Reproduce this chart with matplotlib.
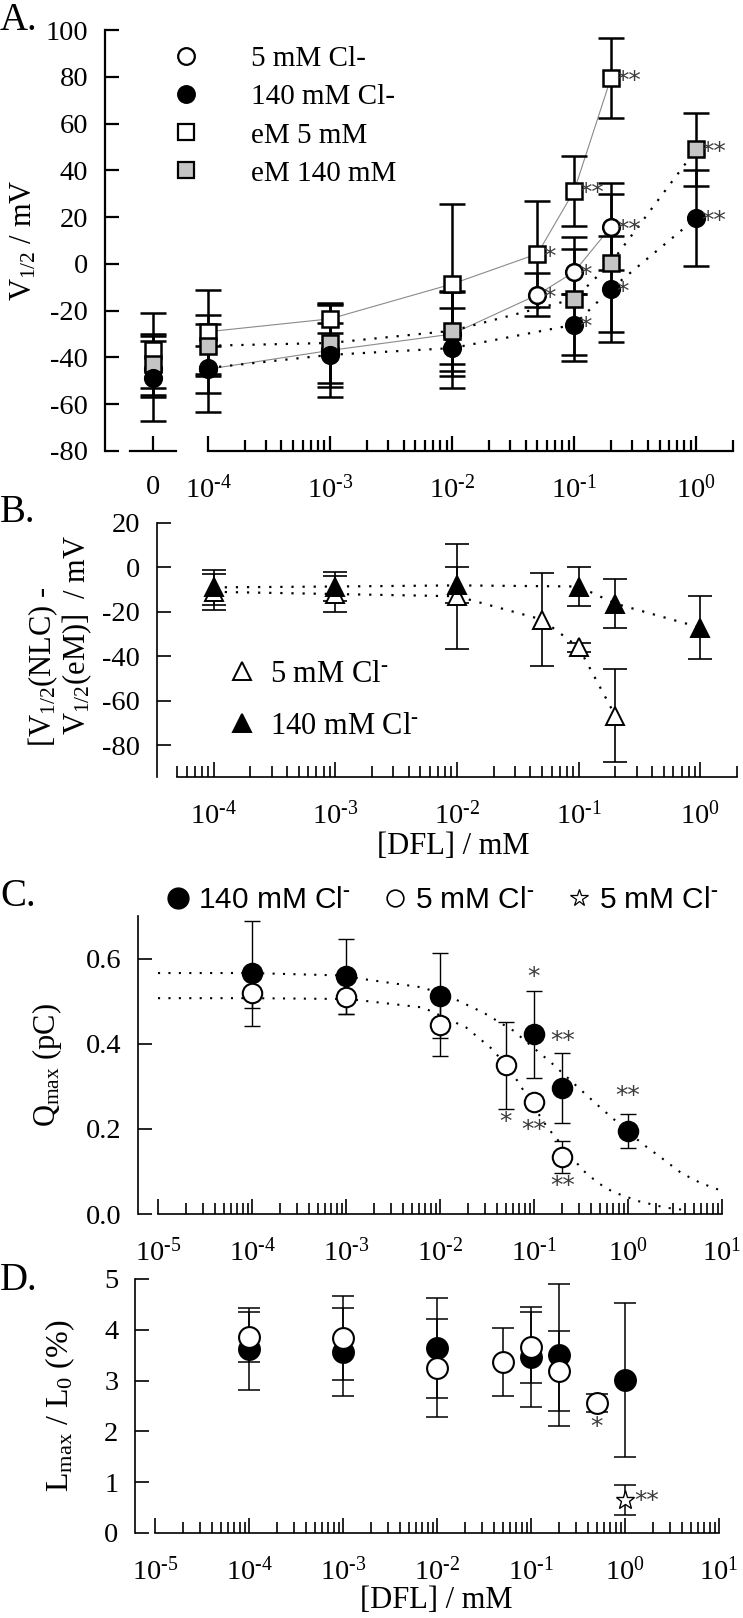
import numpy as np
import matplotlib
matplotlib.use('Agg')
import matplotlib.pyplot as plt
from matplotlib.ticker import FixedLocator, FixedFormatter, NullFormatter, LogLocator
from matplotlib.lines import Line2D

plt.rcParams.update({
    'font.family': ['Liberation Serif', 'DejaVu Serif'],
    'mathtext.fontset': 'custom',
    'mathtext.rm': 'Liberation Serif',
    'mathtext.it': 'Liberation Serif:italic',
    'mathtext.bf': 'Liberation Serif:bold',
    'mathtext.default': 'regular',
    'axes.unicode_minus': False,
})

# ---------------- data ----------------
# Panel A : V1/2 (mV) vs [DFL] (mM); "0" = control
concA_cl5 = [1e-4, 1e-3, 1e-2, 0.05, 0.1, 0.2]
vA_cl5 = [-45, -37, -30, -13.2, -3.4, 15.8]
eA_cl5 = [10, 20, 18, 9.1, 9.6, 18.6]
concA_cl140 = [1e-4, 1e-3, 1e-2, 0.1, 0.2, 1.0]
vA_cl140 = [-44.5, -38.9, -36, -26, -10.7, 19.6]
eA_cl140 = [18.8, 13.7, 17, 13, 22.5, 20.5]
concA_em5 = [1e-4, 1e-3, 1e-2, 0.05, 0.1, 0.2]
vA_em5 = [-29, -23.5, -8.6, 4.3, 31.3, 79.5]
eA_em5 = [18, 6, 34.2, 22.6, 15, 17]
concA_em140 = [1e-4, 1e-3, 1e-2, 0.1, 0.2, 1.0]
vA_em140 = [-35, -33.8, -28.6, -15, 0.4, 49]
eA_em140 = [13, 17, 17, 26.7, 29.5, 15.5]
# control (0 mM DFL) values: cl5, cl140, em5, em140
ctrl_v = [-45, -49, -37, -43]
ctrl_e = [12, 18, 16, 13]
labelsA = ['5 mM Cl-', '140 mM Cl-', 'eM 5 mM', 'eM 140 mM']
# significance marks (series, index, text)
sigA = [('em5', 5, '**'), ('em5', 4, '**'), ('em5', 3, '*'),
        ('cl5', 5, '**'), ('cl5', 4, '*'), ('cl5', 3, '*'),
        ('cl140', 4, '*'), ('cl140', 3, '*'), ('cl140', 5, '**'),
        ('em140', 5, '**')]

# Panel B : V1/2(NLC) - V1/2(eM)
concB_5 = [1e-4, 1e-3, 1e-2, 0.05, 0.1, 0.2]
dB_5 = [-11, -12, -13, -23.5, -36, -66.8]
eB_5 = [8, 8.3, 23.6, 21, 2, 21]
concB_140 = [1e-4, 1e-3, 1e-2, 0.1, 0.2, 1.0]
dB_140 = [-9, -8.6, -8.1, -8.6, -16.3, -27.1]
eB_140 = [8, 6.5, 8.1, 8.8, 11, 14.3]
labelsB = ['5 mM Cl$^{\\text{-}}$', '140 mM Cl$^{\\text{-}}$']

# Panel C : Qmax (pC)
concC_140 = [1e-4, 1e-3, 1e-2, 0.1, 0.2, 1.0]
qC_140 = [0.565, 0.558, 0.513, 0.422, 0.296, 0.195]
eC_140 = [0.124, 0.089, 0.10, 0.103, 0.083, 0.04]
concC_5 = [1e-4, 1e-3, 1e-2, 0.05, 0.1, 0.2]
qC_5 = [0.518, 0.509, 0.445, 0.349, 0.263, 0.134]
eC_5 = [0.035, 0.04, 0.075, 0.102, 0.0, 0.037]
# dotted fit curves
fitC140_x = [1e-5, 1e-4, 1e-3, 1.4e-3, 6.6e-3, 1.4e-2, 0.029, 0.06, 0.155, 0.32, 0.52, 1.4, 2.3, 3.7, 5.9, 9.5]
fitC140_y = [0.566, 0.566, 0.560, 0.553, 0.532, 0.506, 0.473, 0.431, 0.354, 0.29, 0.248, 0.166, 0.131, 0.096, 0.073, 0.056]
fitC5_x = [1e-5, 1e-4, 1e-3, 1.4e-3, 6.6e-3, 0.019, 0.037, 0.066, 0.09, 0.138, 0.33, 0.48, 0.69, 1.3, 2.5, 4.5]
fitC5_y = [0.507, 0.507, 0.505, 0.502, 0.485, 0.438, 0.385, 0.314, 0.267, 0.204, 0.103, 0.073, 0.052, 0.03, 0.015, 0.008]
sigC = [('c5', 3, '*', -41), ('c140', 3, '*', 41), ('c5', 4, '**', -20),
        ('c140', 4, '**', 34), ('c5', 5, '**', -21), ('c140', 5, '**', 25)]
labelsC = ['140 mM Cl$^{\\text{-}}$', '5 mM Cl$^{\\text{-}}$', '5 mM Cl$^{\\text{-}}$']

# Panel D : Lmax / L0 (%)
concD_140 = [1e-4, 1e-3, 1e-2, 0.1, 0.2, 1.0]
lD_140 = [3.62, 3.56, 3.64, 3.47, 3.50, 3.01]
eD_140 = [0.80, 0.87, 0.98, 0.98, 1.40, 1.52]
concD_5 = [1e-4, 1e-3, 1e-2, 0.05, 0.1, 0.2, 0.5]
lD_5 = [3.86, 3.84, 3.25, 3.37, 3.66, 3.19, 2.56]
eD_5 = [0.50, 0.82, 0.97, 0.67, 0.70, 0.79, 0.17]
concD_star = [1.0]
lD_star = [0.65]
eD_star = [0.29]

# axis ticks / labels
decA = [1e-4, 1e-3, 1e-2, 1e-1, 1e0]
decA_lab = ['$10^{\\text{-}4}$', '$10^{\\text{-}3}$', '$10^{\\text{-}2}$', '$10^{\\text{-}1}$', '$10^{0}$']
decC = [1e-5, 1e-4, 1e-3, 1e-2, 1e-1, 1e0, 1e1]
decC_lab = ['$10^{\\text{-}5}$', '$10^{\\text{-}4}$', '$10^{\\text{-}3}$', '$10^{\\text{-}2}$',
            '$10^{\\text{-}1}$', '$10^{0}$', '$10^{1}$']

# ---------------- layout helpers ----------------
W, H = 743, 1618
fig = plt.figure(figsize=(W / 100, H / 100), dpi=100)


def rect(x0, x1, ytop, ybot):
    return [x0 / W, 1 - ybot / H, (x1 - x0) / W, (ybot - ytop) / H]


def P(x, y):
    return (x / W, 1 - y / H)


FS = 20.5


def style(ax, lw, outward):
    for s in ['top', 'right']:
        ax.spines[s].set_visible(False)
    ax.spines['left'].set_linewidth(lw)
    ax.spines['bottom'].set_linewidth(lw)
    ax.spines['left'].set_position(('outward', outward))
    ax.tick_params(axis='both', which='both', direction='in', width=lw, labelsize=FS)
    ax.tick_params(axis='y', length=10, pad=12)
    ax.tick_params(axis='x', which='major', length=11, pad=17)
    ax.tick_params(axis='x', which='minor', length=8)
    ax.patch.set_alpha(0)


def logx(ax, lim, majors, labels):
    ax.set_xscale('log')
    ax.set_xlim(*lim)
    ax.xaxis.set_major_locator(FixedLocator(majors))
    ax.xaxis.set_major_formatter(FixedFormatter(labels))
    ax.xaxis.set_minor_locator(LogLocator(base=10, subs=np.arange(2, 10), numticks=50))
    ax.xaxis.set_minor_formatter(NullFormatter())


def star_text(ax, x, y, txt, dx, dy, ha='left'):
    ax.annotate(txt, xy=(x, y), xytext=(dx, dy), textcoords='offset points',
                ha=ha, va='center', fontsize=18, family='DejaVu Sans', color='#3a3a3a',
                zorder=10)

GRAY = '#c4c4c4'

# ================= Panel A =================
axA = fig.add_axes(rect(208, 733, 30, 451))
ax0 = fig.add_axes(rect(130, 176, 30, 451), sharey=axA)
for ax in (axA, ax0):
    style(ax, 1.6, 18)
axA.spines['left'].set_visible(False)
axA.tick_params(axis='y', left=False, labelleft=False)
axA.set_ylim(-80, 100)
ax0.set_yticks(np.arange(-80, 101, 20))
ax0.set_yticklabels([str(v) for v in range(-80, 101, 20)])
logx(axA, (1e-4, 2.0), decA, decA_lab)
ax0.set_xlim(-1, 1)
ax0.set_xticks([0])
ax0.set_xticklabels(['0'])

A_series = {
    'em5': (concA_em5, vA_em5, eA_em5, dict(marker='s', mfc='white', ms=11), '-', 2),
    'cl5': (concA_cl5, vA_cl5, eA_cl5, dict(marker='o', mfc='white', ms=12), '-', 0),
    'em140': (concA_em140, vA_em140, eA_em140, dict(marker='s', mfc=GRAY, ms=11), ':', 3),
    'cl140': (concA_cl140, vA_cl140, eA_cl140, dict(marker='o', mfc='black', ms=12), ':', 1),
}
z = 3
for key, (xs, ys, es, mk, ls, ci) in A_series.items():
    if ls == '-':
        axA.plot(xs, ys, '-', color='#8a8a8a', lw=0.8, zorder=1)
    else:
        axA.plot(xs, ys, linestyle=(0, (1, 4)), color='black', lw=1.6, zorder=1)
    axA.errorbar(xs, ys, yerr=es, fmt='none', ecolor='black', elinewidth=1.8,
                 capsize=9.5, capthick=1.8, zorder=2, clip_on=False)
    axA.plot(xs, ys, linestyle='none', mec='black', mew=1.8, zorder=z, clip_on=False, **mk)
    ax0.errorbar([0], [ctrl_v[ci]], yerr=[ctrl_e[ci]], fmt='none', ecolor='black',
                 elinewidth=1.8, capsize=9.5, capthick=1.8, zorder=2)
    ax0.plot([0], [ctrl_v[ci]], linestyle='none', mec='black', mew=1.8, zorder=z, **mk)
    z += 1

for key, i, txt in sigA:
    xs, ys = A_series[key][0], A_series[key][1]
    star_text(axA, xs[i], ys[i], txt, 4, -2)

handlesA = [Line2D([], [], linestyle='none', mec='black', mew=1.6, **A_series[k][3])
            for k in ['cl5', 'cl140', 'em5', 'em140']]
axA.legend(handlesA, labelsA, loc='upper left', bbox_to_anchor=P(171, 46),
           bbox_transform=fig.transFigure, frameon=False, fontsize=21,
           handlelength=1.0, handletextpad=1.75, labelspacing=0.4, borderpad=0,
           borderaxespad=0, numpoints=1)

fig.text(*P(0, 20), 'A.', fontsize=28, ha='left', va='center')
fig.text(*P(24, 240), 'V$_{1/2}$ / mV', fontsize=22, rotation=90, ha='center', va='center')

# ================= Panel B =================
axB = fig.add_axes(rect(177, 737, 523, 777))
style(axB, 1.2, 14.4)
axB.set_ylim(-94.4, 20)
axB.set_yticks(np.arange(-80, 21, 20))
axB.set_yticklabels([str(v) for v in range(-80, 21, 20)])
logx(axB, (5e-5, 2.0), decA, decA_lab)

axB.plot(concB_140, dB_140, linestyle=(0, (1, 4)), color='black', lw=1.6, zorder=1)
axB.plot(concB_5, dB_5, linestyle=(0, (1, 4)), color='black', lw=1.6, zorder=1)
axB.errorbar(concB_140, dB_140, yerr=eB_140, fmt='none', ecolor='black', elinewidth=1.2,
             capsize=8.3, capthick=1.2, zorder=2)
axB.errorbar(concB_5, dB_5, yerr=eB_5, fmt='none', ecolor='black', elinewidth=1.2,
             capsize=8.3, capthick=1.2, zorder=2)
h5, = axB.plot(concB_5, dB_5, linestyle='none', marker='^', mfc='white', mec='black',
               mew=1.4, ms=13, zorder=3)
h140, = axB.plot(concB_140, dB_140, linestyle='none', marker='^', mfc='black', mec='black',
                 mew=1.4, ms=13, zorder=4)
axB.legend([h5, h140], labelsB, loc='upper left', bbox_to_anchor=P(230, 660),
           bbox_transform=fig.transFigure, frameon=False, fontsize=22,
           handlelength=0.8, handletextpad=0.5, labelspacing=0.75, borderpad=0,
           borderaxespad=0, numpoints=1)

fig.text(*P(0, 512), 'B.', fontsize=28, ha='left', va='center')
fig.text(*P(43, 747), '[V$_{1/2}$(NLC) -', fontsize=22, rotation=90, ha='center', va='bottom')
fig.text(*P(77, 735), 'V$_{1/2}$(eM)]  / mV', fontsize=22, rotation=90, ha='center', va='bottom')
fig.text(*P(453, 847), '[DFL] / mM', fontsize=22, ha='center', va='center')

# ================= Panel C =================
axC = fig.add_axes(rect(158, 722, 916, 1214))
style(axC, 1.2, 14.4)
axC.set_ylim(0, 0.7)
axC.set_yticks([0.0, 0.2, 0.4, 0.6])
axC.set_yticklabels(['0.0', '0.2', '0.4', '0.6'])
logx(axC, (1e-5, 10), decC, decC_lab)

axC.plot(fitC140_x, fitC140_y, linestyle=(0, (1, 4)), color='black', lw=1.5, zorder=1, clip_on=False)
axC.plot(fitC5_x, fitC5_y, linestyle=(0, (1, 4)), color='black', lw=1.5, zorder=1, clip_on=False)
axC.errorbar(concC_140, qC_140, yerr=eC_140, fmt='none', ecolor='black', elinewidth=1.0,
             capsize=6, capthick=1.0, zorder=2)
axC.errorbar(concC_5, qC_5, yerr=eC_5, fmt='none', ecolor='black', elinewidth=1.0,
             capsize=6, capthick=1.0, zorder=2)
hc140, = axC.plot(concC_140, qC_140, linestyle='none', marker='o', mfc='black', mec='black',
                  mew=1.5, ms=14, zorder=3)
hc5, = axC.plot(concC_5, qC_5, linestyle='none', marker='o', mfc='white', mec='black',
                mew=1.5, ms=14, zorder=4)
C_series = {'c140': (concC_140, qC_140), 'c5': (concC_5, qC_5)}
for key, i, txt, dy in sigC:
    xs, ys = C_series[key]
    star_text(axC, xs[i], ys[i], txt, 0, dy, ha='center')

hleg = [Line2D([], [], linestyle='none', marker='o', mfc='black', mec='black', ms=15),
        Line2D([], [], linestyle='none', marker='o', mfc='white', mec='black', ms=12, mew=1.2),
        Line2D([], [], linestyle='none', marker='*', mfc='white', mec='black', ms=13, mew=0.9)]
axC.legend(hleg, labelsC, loc='center left', bbox_to_anchor=P(167, 900),
           bbox_transform=fig.transFigure, frameon=False, ncol=3,
           prop={'family': ['Liberation Sans', 'DejaVu Sans'], 'size': 21.5},
           handlelength=0.75, handletextpad=0.3, columnspacing=1.1, borderpad=0,
           borderaxespad=0, numpoints=1)

fig.text(*P(0, 897), 'C.', fontsize=28, ha='left', va='center')
fig.text(*P(47, 1065), 'Q$_{max}$ (pC)', fontsize=22, rotation=90, ha='center', va='center')

# ================= Panel D =================
axD = fig.add_axes(rect(155, 719, 1279, 1533))
style(axD, 1.2, 14.4)
axD.set_ylim(0, 5)
axD.set_yticks([0, 1, 2, 3, 4, 5])
axD.set_yticklabels(['0', '1', '2', '3', '4', '5'])
logx(axD, (1e-5, 10), decC, decC_lab)

axD.errorbar(concD_140, lD_140, yerr=eD_140, fmt='none', ecolor='black', elinewidth=1.1,
             capsize=8, capthick=1.1, zorder=2)
axD.errorbar(concD_5, lD_5, yerr=eD_5, fmt='none', ecolor='black', elinewidth=1.1,
             capsize=8, capthick=1.1, zorder=2)
axD.errorbar(concD_star, lD_star, yerr=eD_star, fmt='none', ecolor='black', elinewidth=1.1,
             capsize=8, capthick=1.1, zorder=2)
axD.plot(concD_140, lD_140, linestyle='none', marker='o', mfc='black', mec='black',
         mew=1.5, ms=15, zorder=3)
axD.plot(concD_5, lD_5, linestyle='none', marker='o', mfc='white', mec='black',
         mew=1.5, ms=15, zorder=4)
axD.plot(concD_star, lD_star, linestyle='none', marker='*', mfc='white', mec='black',
         mew=1.0, ms=14, zorder=5)
star_text(axD, concD_5[6], lD_5[6], '*', 0, -17, ha='center')
star_text(axD, concD_star[0], lD_star[0], '**', 7, -1)

fig.text(*P(0, 1280), 'D.', fontsize=28, ha='left', va='center')
fig.text(*P(60, 1406), 'L$_{max}$ / L$_{0}$ (%)', fontsize=23, rotation=90, ha='center', va='center')
fig.text(*P(436, 1600), '[DFL] / mM', fontsize=22, ha='center', va='center')

fig.savefig('out.png', dpi=100)
